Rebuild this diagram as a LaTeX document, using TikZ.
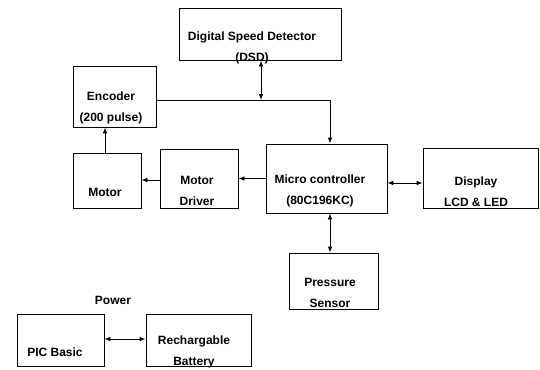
\documentclass[tikz,border=0pt]{standalone}
\usepackage{fontspec}
\setmainfont{Liberation Sans}
\usetikzlibrary{positioning,arrows.meta}
\tikzset{
  blkbox/.style={draw, line width=0.8pt, inner sep=0pt},
  blktxt/.style={font=\fontsize{12}{21}\selectfont\bfseries,
    align=center, inner sep=0pt},
  blkarr/.style={-{Latex[length=6pt,width=4.5pt]}, line width=0.8pt},
  blkbiarr/.style={{Latex[length=6pt,width=4.5pt]}-{Latex[length=6pt,width=4.5pt]},
    line width=0.8pt},
}

\begin{document}
\begin{tikzpicture}[x=1pt, y=-1pt]
  \useasboundingbox (0,0) rectangle (540,369);
  % ---- Boxes ----
  \node[blkbox, minimum width=162pt, minimum height=52pt] at (260,34)    (dsd)  {};
  \node[blkbox, minimum width=83pt,  minimum height=61pt] at (114.5,96.5) (enc) {};
  \node[blkbox, minimum width=68pt,  minimum height=55pt] at (107,180.5) (mot)  {};
  \node[blkbox, minimum width=78pt,  minimum height=59pt] at (199,178.5) (drv)  {};
  \node[blkbox, minimum width=121pt, minimum height=69pt] at (326.5,178.5) (mcu) {};
  \node[blkbox, minimum width=115pt, minimum height=60pt] at (480.5,178) (disp) {};
  \node[blkbox, minimum width=89pt,  minimum height=56pt] at (333.5,281) (pres) {};
  \node[blkbox, minimum width=87pt,  minimum height=52pt] at (60.5,340)  (pic)  {};
  \node[blkbox, minimum width=105pt, minimum height=52pt] at (198.5,340) (bat)  {};

  % ---- Texts ----
  \node[blktxt] at (252,48)  (dsdtxt)  {Digital Speed Detector\\(DSD)};
  \node[blktxt] at (111,108) (enctxt)  {Encoder\\(200 pulse)};
  \node[blktxt] at (105,192) (mottxt)  {Motor};
  \node[blktxt] at (197,191) (drvtxt)  {Motor\\Driver};
  \node[blktxt] at (320,191) (mcutxt)  {Micro controller\\(80C196KC)};
  \node[blktxt] at (476,192) (disptxt) {Display\\LCD \& LED};
  \node[blktxt] at (330,293) (prestxt) {Pressure\\Sensor};
  \node[blktxt] at (113,300) (powtxt)  {Power};
  \node[blktxt] at (55,352)  (pictxt)  {PIC Basic};
  \node[blktxt] at (194,352) (battxt)  {Rechargable\\Battery};

  % ---- Edges ----
  \coordinate (jn) at (261,100);
  \draw[blkarr]   ([yshift=-3.5pt]enc.east) -| ([xshift=3.5pt]mcu.north);
  \draw[blkbiarr] (dsd.south -| jn) -- (jn);
  \draw[blkarr]   (mcu.west) -- (drv.east);
  \draw[blkarr]   ([yshift=-1.5pt]drv.west) -- ([yshift=-1.5pt]drv.west -| mot.east);
  \draw[blkarr]   ([xshift=-2pt]mot.north) -- ([xshift=-2pt]mot.north |- enc.south);
  \draw[blkbiarr] ([yshift=-4.5pt]mcu.east) -- ([yshift=-4.5pt]mcu.east -| disp.west);
  \draw[blkbiarr] ([xshift=3.5pt]mcu.south) -- ([xshift=3.5pt]mcu.south |- pres.north);
  \draw[blkbiarr] ([yshift=1pt]pic.east) -- ([yshift=1pt]pic.east -| bat.west);
\end{tikzpicture}
\end{document}
